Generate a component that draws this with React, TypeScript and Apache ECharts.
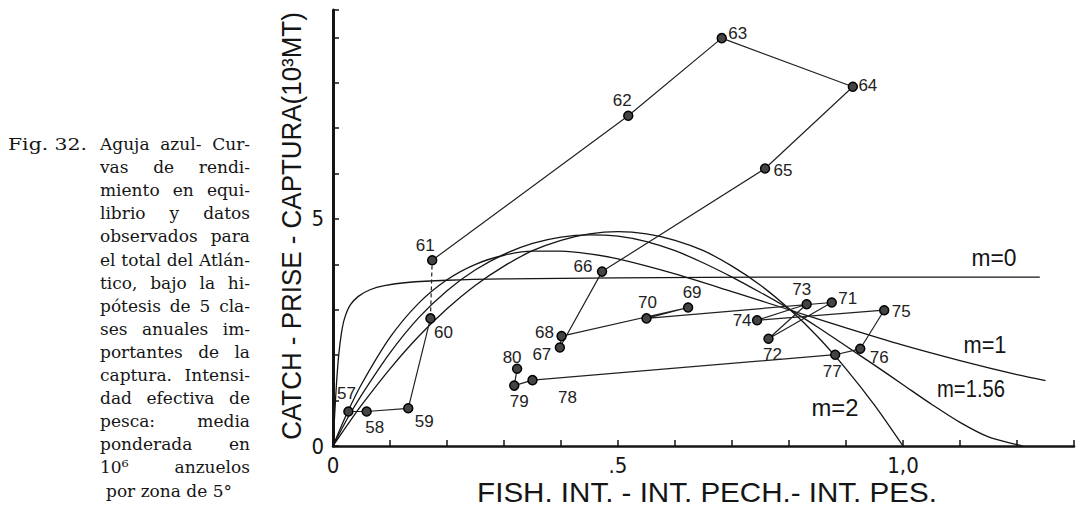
import React, { useEffect, useRef } from "react";
import * as echarts from "echarts";

// ---- Observed data: year, effective fishing intensity (10^6 hooks / 5° square), catch (10^3 MT)
const years = ["57", "58", "59", "60", "61", "62", "63", "64", "65", "66", "67", "68", "69", "70", "71", "72", "73", "74", "75", "76", "77", "78", "79", "80"];
const effort = [0.027, 0.059, 0.132, 0.171, 0.174, 0.518, 0.682, 0.912, 0.758, 0.472, 0.398, 0.401, 0.623, 0.55, 0.875, 0.764, 0.831, 0.744, 0.967, 0.925, 0.881, 0.35, 0.318, 0.323];
const catches = [0.76, 0.76, 0.83, 2.81, 4.09, 7.27, 8.98, 7.91, 6.11, 3.84, 2.17, 2.42, 3.05, 2.81, 3.16, 2.36, 3.12, 2.77, 2.99, 2.14, 2.01, 1.45, 1.33, 1.7];

// ---- Equilibrium yield curves
const m0Effort = [0, 0.003, 0.006, 0.01, 0.015, 0.02, 0.03, 0.045, 0.065, 0.09, 0.13, 0.2, 0.3, 0.5, 0.8, 1.24];
const m0Yield = [0, 0.7, 1.35, 2.0, 2.5, 2.8, 3.1, 3.3, 3.44, 3.53, 3.6, 3.65, 3.68, 3.7, 3.72, 3.72];
const m1Effort = [0, 0.025, 0.05, 0.1, 0.15, 0.2, 0.25, 0.3, 0.35, 0.4, 0.45, 0.5, 0.6, 0.7, 0.8, 0.9, 1.0, 1.1, 1.2, 1.25];
const m1Yield = [0, 0.73, 1.36, 2.39, 3.14, 3.66, 4.0, 4.2, 4.29, 4.29, 4.23, 4.12, 3.79, 3.4, 3.0, 2.6, 2.22, 1.88, 1.57, 1.44];
const m156Effort = [0, 0.025, 0.05, 0.1, 0.15, 0.2, 0.25, 0.3, 0.35, 0.4, 0.45, 0.5, 0.55, 0.6, 0.65, 0.7, 0.75, 0.8, 0.85, 0.9, 0.95, 1.0, 1.05, 1.1, 1.15, 1.2, 1.21];
const m156Yield = [0, 0.6, 1.12, 2.05, 2.82, 3.42, 3.88, 4.22, 4.46, 4.6, 4.65, 4.62, 4.5, 4.3, 4.03, 3.72, 3.38, 3.02, 2.62, 2.2, 1.78, 1.35, 0.92, 0.52, 0.2, 0.03, 0];
const m2Effort = [0, 0.025, 0.05, 0.1, 0.15, 0.2, 0.25, 0.3, 0.35, 0.4, 0.45, 0.5, 0.55, 0.6, 0.65, 0.7, 0.75, 0.8, 0.85, 0.9, 0.95, 1.0];
const m2Yield = [0, 0.46, 0.9, 1.7, 2.41, 3.02, 3.54, 3.96, 4.3, 4.53, 4.67, 4.72, 4.67, 4.53, 4.3, 3.96, 3.54, 3.02, 2.41, 1.7, 0.9, 0];

const curveNames = ["m=0", "m=1", "m=1.56", "m=2"];

// ---- Tick labels
const xTickValues = [0, 0.5, 1.0];
const xTickTexts = ["0", ".5", "1,0"];
const yTickValues = [0, 5];
const yTickTexts = ["0", "5"];

const xTitle = "FISH. INT. - INT. PECH.- INT. PES.";
const yTitle = "CATCH - PRISE - CAPTURA(10³MT)";

const figLabel = "Fig. 32.";
const captionLines = [
  "Aguja azul- Cur-",
  "vas de rendi-",
  "miento en equi-",
  "librio y datos",
  "observados para",
  "el total del Atlán-",
  "tico, bajo la hi-",
  "pótesis de 5 cla-",
  "ses anuales im-",
  "portantes de la",
  "captura. Intensi-",
  "dad efectiva de",
  "pesca: media",
  "ponderada en",
  "10⁶ anzuelos",
  "por zona de 5°",
];

// ---- Layout / style (not data)
const labelOffsets: number[][] = [
  [-2, -18], [8, 16], [16, 13], [13, 14], [-7, -15], [-6, -15], [16, -5], [15, -1],
  [18, 2], [-19, -5], [-18, 7], [-17, -4], [4, -15], [1, -16], [16, -4], [4, 16],
  [-5, -15], [-15, 0], [17, 1], [19, 9], [-3, 17], [35, 17], [5, 16], [-5, -11],
];
const dashedSegmentStart = 3; // segment 60 -> 61 is drawn dashed in the original
const curveLabelPos: number[][] = [[994, 258], [985, 345], [971, 389], [835, 408]];
const curveLabelWidth = [45, 43, 68, 47];

const INK = "#151515";
const NARROW = "'Liberation Sans Narrow', 'DejaVu Sans Condensed', 'Arial Narrow', sans-serif";
const SANS = "'Liberation Sans', Arial, sans-serif";
const SERIF = "'DejaVu Serif', serif";

export default function App() {
  const ref = useRef<HTMLDivElement>(null);

  useEffect(() => {
    if (!ref.current) return;
    const chart = echarts.init(ref.current, null, { renderer: "svg" });
    const ctx = document.createElement("canvas").getContext("2d")!;
    const measure = (t: string, size: number, family: string, weight = "normal") => {
      ctx.font = `${weight} ${size}px ${family}`;
      return ctx.measureText(t).width;
    };

    const graphic: any[] = [];

    const fitted = (text: string, x: number, y: number, w: number, size: number, family: string, rotation = 0, align = "center") => {
      const nat = measure(text, size, family);
      graphic.push({
        type: "text",
        x,
        y,
        rotation,
        scaleX: w / nat,
        silent: true,
        style: {
          text,
          fontSize: size,
          fontFamily: family,
          fill: INK,
          align,
          verticalAlign: "middle",
        },
      });
    };

    // axis titles
    fitted(xTitle, 707, 492, 460, 28, SANS);
    fitted(yTitle, 292, 226, 428, 28, SANS, Math.PI / 2);

    // curve labels
    curveNames.forEach((n, i) => {
      fitted(n, curveLabelPos[i][0], curveLabelPos[i][1], curveLabelWidth[i], 23, SANS);
    });

    // caption
    const capSize = 17;
    const capTop = 144;
    const capStep = 23.1;
    const justify = (line: string, left: number, right: number, y: number, doJustify: boolean) => {
      const words = line.split(" ");
      const widths = words.map((w) => measure(w, capSize, SERIF));
      const total = widths.reduce((a, b) => a + b, 0);
      const avail = right - left;
      const gap = words.length > 1 ? (avail - total) / (words.length - 1) : 0;
      if (!doJustify || words.length === 1) {
        graphic.push({
          type: "text", x: left, y, silent: true,
          style: { text: line, fontSize: capSize, fontFamily: SERIF, fill: INK, align: "left", verticalAlign: "middle" },
        });
        return;
      }
      if (gap < 3) {
        const nat = measure(line, capSize, SERIF);
        graphic.push({
          type: "text", x: left, y, scaleX: avail / nat, silent: true,
          style: { text: line, fontSize: capSize, fontFamily: SERIF, fill: INK, align: "left", verticalAlign: "middle" },
        });
        return;
      }
      let x = left;
      words.forEach((w, i) => {
        graphic.push({
          type: "text", x, y, silent: true,
          style: { text: w, fontSize: capSize, fontFamily: SERIF, fill: INK, align: "left", verticalAlign: "middle" },
        });
        x += widths[i] + gap;
      });
    };
    fitted(figLabel, 8, capTop, 79, capSize, SERIF, 0, "left");
    captionLines.forEach((line, i) => {
      const last = i === captionLines.length - 1;
      justify(line, last ? 106 : 100, 250, capTop + i * capStep, !last);
    });

    const curve = (xs: number[], ys: number[]) => ({
      type: "line",
      data: xs.map((x, i) => [x, ys[i]]),
      smooth: 0.3,
      symbol: "none",
      showSymbol: false,
      silent: true,
      lineStyle: { color: INK, width: 1.3 },
      z: 2,
    });

    const pts = effort.map((x, i) => [x, catches[i]]);
    const pathSeg = (from: number, to: number, dashed: boolean) => ({
      type: "line",
      data: pts.slice(from, to + 1),
      symbol: "none",
      showSymbol: false,
      silent: true,
      lineStyle: { color: "#222", width: 1.2, type: dashed ? [4, 3] : "solid" },
      z: 3,
    });

    const option: any = {
      animation: false,
      backgroundColor: "#ffffff",
      grid: { left: 333, right: 7, top: 10, bottom: 64, containLabel: false, outerBoundsMode: "none" },
      xAxis: {
        type: "value",
        min: 0,
        max: 1.3,
        interval: 0.1,
        axisLine: { show: true, onZero: false, lineStyle: { color: INK, width: 2.5 } },
        axisTick: { show: true, inside: true, length: 6, lineStyle: { color: INK, width: 1.5 } },
        axisLabel: {
          color: INK,
          fontSize: 22,
          fontFamily: NARROW,
          margin: 8,
          formatter: (v: number) => {
            const k = xTickValues.findIndex((t) => Math.abs(t - v) < 1e-6);
            return k >= 0 ? xTickTexts[k] : "";
          },
        },
        splitLine: { show: false },
      },
      yAxis: {
        type: "value",
        min: 0,
        max: 9.6,
        interval: 1,
        axisLine: { show: true, onZero: false, lineStyle: { color: INK, width: 3 } },
        axisTick: { show: true, inside: true, length: 6, lineStyle: { color: INK, width: 1.5 } },
        axisLabel: {
          color: INK,
          fontSize: 22,
          fontFamily: NARROW,
          margin: 9,
          formatter: (v: number) => {
            const k = yTickValues.findIndex((t) => Math.abs(t - v) < 1e-6);
            return k >= 0 ? yTickTexts[k] : "";
          },
        },
        splitLine: { show: false },
      },
      series: [
        curve(m0Effort, m0Yield),
        curve(m1Effort, m1Yield),
        curve(m156Effort, m156Yield),
        curve(m2Effort, m2Yield),
        pathSeg(0, dashedSegmentStart, false),
        pathSeg(dashedSegmentStart, dashedSegmentStart + 1, true),
        pathSeg(dashedSegmentStart + 1, pts.length - 1, false),
        {
          type: "scatter",
          data: pts.map((p, i) => ({ value: p, label: { offset: labelOffsets[i] } })),
          symbol: "circle",
          symbolSize: 9,
          itemStyle: { color: "#444", borderColor: "#000", borderWidth: 1.5, opacity: 1 },
          label: {
            show: true,
            position: "inside",
            formatter: (p: any) => years[p.dataIndex],
            fontSize: 17,
            fontFamily: SANS,
            color: "#222",
          },
          z: 4,
        },
      ],
      graphic,
    };

    chart.setOption(option);
    return () => chart.dispose();
  }, []);

  return (
    <div
      ref={ref}
      style={{ position: "fixed", left: 0, top: 0, width: 1081, height: 510, background: "#fff" }}
    />
  );
}
